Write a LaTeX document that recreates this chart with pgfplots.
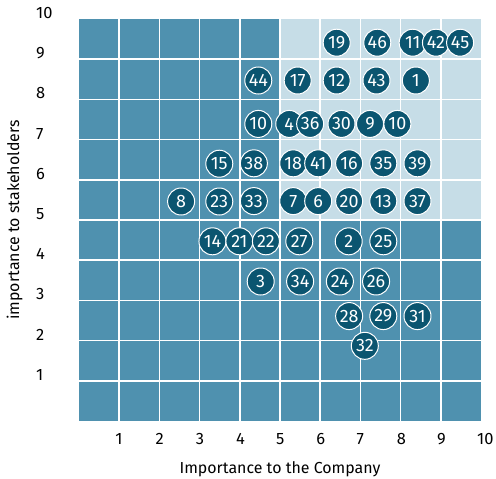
\documentclass[border=0pt]{standalone}
\usepackage{fontspec}
\setmainfont{Fira Sans}
\usepackage{pgfplots}
\pgfplotsset{compat=1.18}
\usetikzlibrary{calc}
\definecolor{darkc}{HTML}{0B5570}
\definecolor{bluec}{HTML}{4F91AF}
\definecolor{lightc}{HTML}{C6DDE7}
\pgfplotstableread{
x y label
5.44 8.47 17
6.41 9.41 19
7.42 9.41 46
8.30 9.41 11
8.88 9.41 42
9.48 9.41 45
4.46 8.47 44
6.41 8.47 12
7.40 8.47 43
8.38 8.47 1
4.46 7.39 10
5.23 7.39 4
5.75 7.39 36
6.53 7.39 30
7.24 7.39 9
7.92 7.39 10
3.49 6.40 15
4.35 6.41 38
5.33 6.41 18
5.95 6.41 41
6.72 6.41 16
7.57 6.41 35
8.42 6.41 39
2.54 5.46 8
3.49 5.46 23
4.35 5.47 33
5.33 5.47 7
5.95 5.47 6
6.72 5.47 20
7.57 5.47 13
8.42 5.47 37
3.32 4.47 14
3.99 4.47 21
4.65 4.47 22
5.48 4.47 27
6.71 4.47 2
7.57 4.47 25
4.52 3.47 3
5.50 3.47 34
6.49 3.47 24
7.39 3.47 26
6.72 2.61 28
7.57 2.61 29
8.42 2.61 31
7.11 1.87 32
}\pointtable
\begin{document}
\begin{tikzpicture}
\begin{axis}[
  scale only axis, width=402bp, height=402bp,
  xmin=0, xmax=10, ymin=0, ymax=10,
  axis line style={draw=none},
  major tick length=0pt,
  xtick={1,...,10}, ytick={1,...,10},
  /pgf/number format/assume math mode=true,
  tick label style={font=\fontsize{16.5}{16.5}\selectfont, inner sep=0pt},
  xticklabel style={anchor=west, xshift=-4bp, yshift=-18bp},
  yticklabel style={anchor=west, xshift=-43bp, yshift=6bp},
  xlabel={Importance to the Company},
  ylabel={importance to stakeholders},
  label style={font=\fontsize{16}{16}\selectfont},
  xlabel style={at={(axis description cs:0.5,-0.12)}, anchor=center},
  ylabel style={at={(axis description cs:-0.16,0.5)}, anchor=center},
  clip=false,
]
\addplot[draw=none, fill=bluec] coordinates {(0,0) (10,0) (10,10) (0,10)} -- cycle;
\addplot[draw=none, fill=lightc] coordinates {(5,5) (10,5) (10,10) (5,10)} -- cycle;
\pgfplotsinvokeforeach{1,...,9}{
  \addplot[white, line width=1.5bp] coordinates {(#1,0) (#1,10)};
  \addplot[white, line width=1.5bp] coordinates {(0,#1) (10,#1)};
}
\addplot[scatter, only marks, mark=*, mark size=13.5bp,
  mark options={fill=darkc, draw=white, line width=1bp},
  point meta=explicit symbolic,
  scatter/@pre marker code/.code={\scope},
  scatter/@post marker code/.code={\node[text=white, inner sep=0pt, font=\fontsize{18}{18}\selectfont] {\pgfplotspointmeta};\endscope},
] table[meta=label] {\pointtable};
\end{axis}
\pgfresetboundingbox
\path ($(current axis.south west)+(-79bp,-58bp)$) rectangle ($(current axis.north east)+(15bp,19bp)$);
\end{tikzpicture}
\end{document}
